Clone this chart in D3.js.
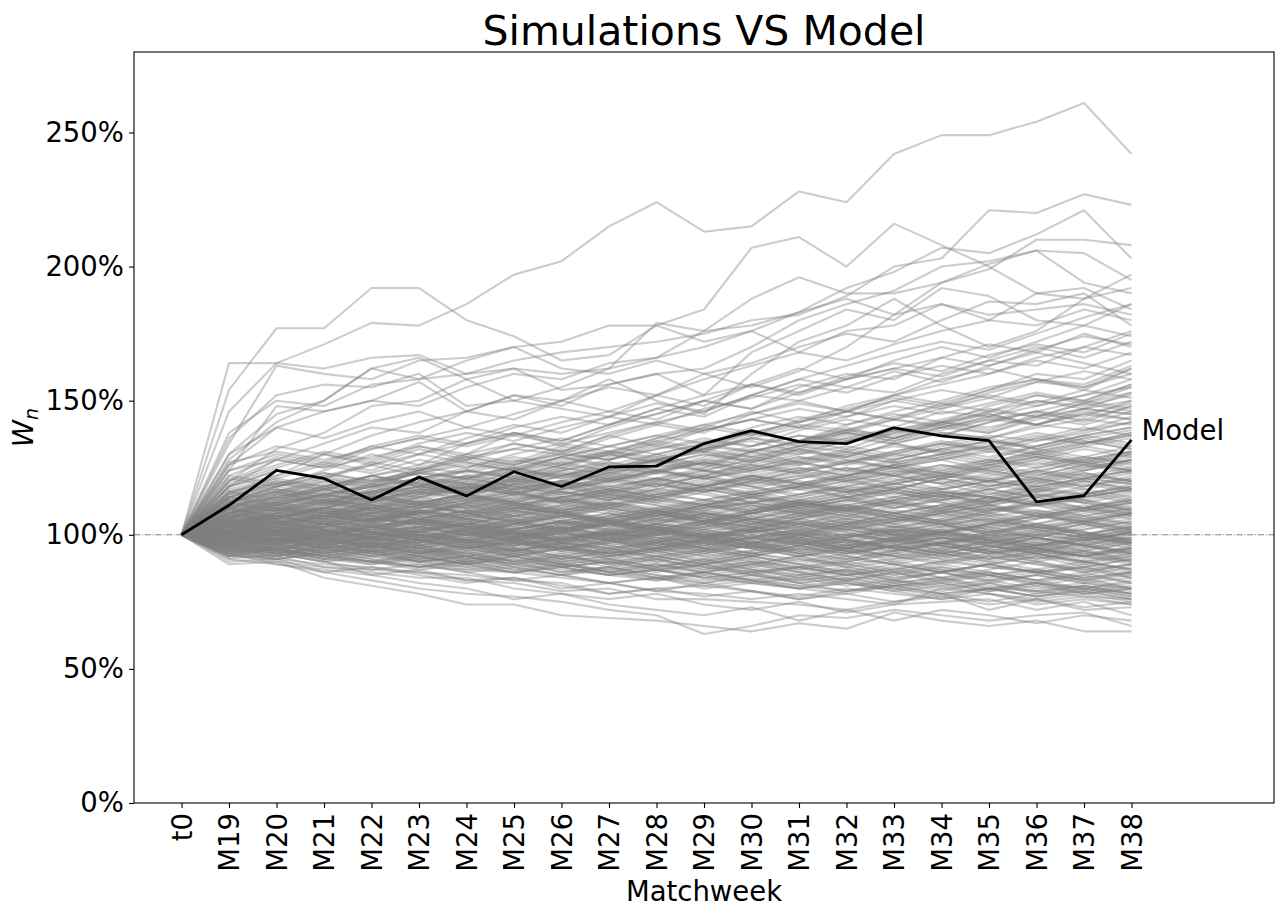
<!DOCTYPE html>
<html>
<head>
<meta charset="utf-8">
<script src="https://cdn.jsdelivr.net/npm/d3@7"></script>
<style>
  body { margin: 0; background: #fff; }
  svg text { font-family: "DejaVu Sans", sans-serif; fill: #000; }
  .axis path, .axis line { stroke: #000; stroke-width: 1.1; }
  .axis text { font-size: 27.5px; }
</style>
</head>
<body>
<svg id="chart" width="1284" height="917"></svg>
<script>
// categories on the x axis
const weeks = ["t0", "M19", "M20", "M21", "M22", "M23", "M24", "M25", "M26", "M27", "M28",
  "M29", "M30", "M31", "M32", "M33", "M34", "M35", "M36", "M37", "M38"];
const yTicks = [0, 50, 100, 150, 200, 250];
const startWealth = 100;

// model wealth, M19..M38 (%)
const model = [111, 124, 121, 113, 121.5, 114.5, 123.5, 118, 125.3, 125.6, 134, 138.8, 134.7, 134,
  139.9, 136.9, 135.1, 112.3, 114.6, 135.4];

// simulated paths, M19..M38 (%) - upper part
const simsHigh = [
  [146,164,171,179,178,186,197,202,215,224,213,215,228,224,242,249,249,254,261,242],
  [154,177,177,192,192,180,174,165,167,178,172,176,168,176,178,186,182,184,186,182],
  [164,164,162,166,167,160,162,160,162,179,176,178,183,188,182,194,201,206,194,190],
  [138,150,148,156,158,165,170,172,178,178,184,207,211,200,216,208,200,190,188,197],
  [130,145,150,162,158,160,165,168,170,172,175,180,182,189,200,203,221,220,227,223],
  [126,140,146,150,148,155,160,158,164,166,170,176,183,192,198,207,205,212,221,203],
  [120,132,138,148,150,158,150,155,162,166,176,188,196,190,190,194,199,210,210,208],
  [118,128,134,140,138,146,152,148,156,160,162,170,180,186,191,200,202,206,205,195],
  [134,163,160,158,165,166,170,162,160,165,160,164,170,175,172,180,187,186,190,178],
  [128,142,150,162,166,158,162,154,156,160,152,168,176,184,180,192,189,180,178,186],
  [124,148,146,150,157,146,152,150,158,150,145,160,172,178,188,178,170,176,188,192],
  [136,152,156,155,160,148,150,147,144,152,160,155,161,170,182,186,180,190,192,184],
  [120,128,125,132,136,140,137,142,146,143,150,156,152,158,162,159,165,170,166,172],
  [115,122,130,127,133,130,138,135,141,147,144,152,158,155,161,157,163,168,164,160],
  [112,118,124,130,126,134,138,133,140,145,150,147,155,160,158,166,171,168,175,170],
  [106,115,120,117,124,129,126,131,128,134,140,146,142,148,152,149,154,160,158,165],
  [130,140,136,142,146,140,145,150,146,152,148,156,162,158,165,170,166,172,178,174],
  [119,125,130,126,132,128,134,131,137,142,146,152,150,146,152,158,162,158,154,162],
  [104,108,112,110,115,119,117,122,125,123,128,132,130,135,139,137,142,146,144,150],
  [100,104,108,106,111,114,112,117,120,124,122,127,131,129,134,138,136,141,139,144],
  [108,112,110,115,118,122,120,125,123,128,132,136,134,139,137,142,146,144,149,153],
  [112,116,120,118,123,121,126,130,128,133,131,136,140,138,143,141,146,150,148,152],
  [106,110,108,112,116,114,119,123,121,126,130,128,133,131,136,140,138,143,147,145],
  [108,114,111,117,121,118,124,127,124,130,134,138,135,141,145,142,148,152,149,155],
  [112,118,122,119,125,129,126,132,129,135,139,143,140,146,150,147,153,157,161,158],
  [104,110,107,113,117,121,118,124,128,132,136,133,139,143,140,146,144,150,147,153],
  [118,124,121,127,124,130,134,131,137,133,139,143,147,144,150,154,151,157,155,160],
  [110,115,119,116,121,125,129,126,131,135,132,138,142,146,143,149,146,152,150,156],
  [114,112,117,121,118,124,128,125,130,134,131,137,141,139,144,148,152,149,154,151],
  [102,108,112,109,114,118,115,120,124,128,125,131,135,132,138,142,139,145,143,148],
  [116,121,126,123,128,125,130,134,131,136,140,137,143,147,151,148,154,158,155,162],
  [120,126,131,128,134,138,135,140,144,141,147,151,156,153,159,163,160,166,170,167],
  [106,111,115,112,117,121,125,122,127,124,129,133,137,134,139,143,147,144,149,146],
  [124,130,127,133,137,134,140,144,141,147,152,156,153,159,164,161,167,171,168,175],
  [112,117,114,119,123,127,124,129,133,137,134,140,144,141,146,150,155,158,156,163],
  [108,113,118,115,120,117,122,126,130,127,132,136,133,138,135,140,144,141,146,143],
  [100,106,110,114,111,116,120,117,122,126,130,127,132,136,140,137,142,146,150,147],
  [114,119,116,122,126,130,127,133,130,136,141,145,149,146,152,156,160,165,162,168],
  [118,122,127,124,130,134,138,135,141,145,150,147,153,158,162,166,163,169,174,171],
  [126,133,130,137,142,146,143,150,155,152,158,163,168,165,171,176,180,178,184,180],
  [122,129,126,133,130,136,141,138,144,149,146,152,158,163,168,172,169,175,181,186],
  [110,116,121,118,124,128,132,130,136,141,138,145,150,155,153,160,165,163,170,176]
];

// simulated paths, M19..M38 (%) - lower part
const simsLow = [
  [89,90,84,81,78,74,74,70,69,68,66,64,67,65,71,68,66,68,64,64],
  [90,91,86,83,80,78,77,75,72,70,63,66,70,69,72,70,68,70,71,66],
  [91,89,87,85,82,80,76,78,74,72,70,73,68,72,68,72,70,67,70,68],
  [92,92,88,86,84,84,80,78,76,78,74,72,75,71,74,75,76,72,75,70],
  [93,90,88,87,86,83,82,79,80,76,76,75,74,72,75,78,72,76,72,73],
  [91,93,90,85,87,83,84,80,82,79,78,76,78,76,74,80,78,74,76,74],
  [92,91,89,88,86,85,83,82,78,80,81,79,77,80,78,76,80,79,77,76],
  [94,95,91,90,88,87,86,84,82,84,80,82,80,78,81,82,79,82,80,78],
  [93,89,86,88,85,82,84,81,78,80,77,79,76,78,75,77,74,76,73,75],
  [95,93,90,87,89,86,83,85,82,79,82,79,76,79,81,78,75,78,80,77],
  [102,98,95,97,93,90,92,88,85,87,84,86,82,84,81,83,80,82,79,81],
  [98,95,92,94,90,88,90,86,88,84,82,84,81,79,81,78,80,77,79,76],
  [96,93,90,92,89,86,88,85,82,84,81,83,80,82,79,76,78,75,77,74],
  [100,97,99,95,92,94,90,88,90,87,89,85,83,85,82,84,80,82,78,80],
  [97,94,91,93,90,87,89,86,88,85,83,85,82,84,81,83,85,82,80,82],
  [99,96,93,95,92,90,92,89,87,89,86,88,85,87,84,86,83,85,82,84],
  [95,92,94,91,88,90,87,89,86,84,86,83,85,82,80,82,79,81,78,80],
  [101,98,95,97,94,92,94,91,93,90,88,90,87,89,86,88,85,87,84,86],
  [96,94,91,89,91,88,86,88,85,87,84,82,84,81,83,80,82,79,81,78],
  [98,95,97,94,91,93,90,92,89,91,88,86,88,85,87,84,86,83,85,82],
  [94,91,93,90,87,89,86,88,85,83,85,82,80,82,79,81,78,76,78,75],
  [100,97,99,96,93,95,92,89,91,88,90,87,85,87,84,86,83,85,82,80],
  [97,95,92,94,91,89,91,88,90,87,85,87,84,86,83,81,83,80,82,79],
  [93,95,92,90,88,90,87,85,87,84,86,83,81,83,80,78,80,77,79,76],
  [99,97,94,96,93,91,93,90,92,89,87,89,86,88,90,87,85,87,84,86],
  [96,93,95,92,90,92,89,87,85,87,84,86,83,85,82,84,81,79,81,78]
];

// simulated paths, M19..M38 (%) - main body
const simsCore = [
  [104,108,106,110,107,112,110,114,116,113,118,121,117,120,124,122,126,123,128,131],
  [98,96,100,97,95,98,94,96,92,95,97,93,96,99,95,92,94,90,93,95],
  [110,114,118,115,120,124,121,126,130,127,133,138,135,140,136,142,145,141,147,150],
  [96,99,95,92,94,90,93,89,91,88,86,89,92,88,85,87,84,86,83,85],
  [106,103,107,110,106,109,112,108,104,107,110,114,111,108,112,115,111,107,110,113],
  [101,105,102,98,101,104,100,97,100,103,99,102,106,103,100,97,101,104,100,98],
  [114,120,117,122,119,116,121,125,122,128,131,127,132,129,134,131,128,133,137,134],
  [95,92,96,93,90,92,88,90,86,88,91,87,84,87,83,86,82,85,88,84],
  [108,112,109,106,110,113,116,112,115,119,116,112,115,118,121,117,120,124,120,117],
  [100,97,101,104,101,98,102,105,108,104,101,104,107,111,108,105,109,112,116,113],
  [118,124,121,126,130,127,124,129,133,130,126,131,135,139,136,141,138,144,141,146],
  [97,101,98,95,98,95,97,94,97,100,96,99,102,98,101,104,100,97,94,97],
  [103,100,104,107,111,108,105,102,106,109,105,108,112,115,119,116,113,117,121,124],
  [112,110,114,111,108,112,115,119,116,113,117,114,110,113,116,112,108,111,107,110],
  [99,103,107,104,108,111,107,110,114,111,107,104,108,105,101,104,100,96,99,102],
  [94,97,93,96,92,89,92,95,91,94,90,93,96,92,89,86,89,92,88,91],
  [107,111,115,119,116,120,124,121,125,129,126,130,134,138,135,139,143,146,142,148],
  [102,99,96,99,95,92,95,91,88,91,87,90,86,83,86,82,85,81,84,80],
  [116,113,117,114,118,121,118,115,119,123,127,124,128,132,129,133,136,132,129,133],
  [100,104,101,105,102,106,109,106,110,107,111,115,112,109,113,110,114,118,115,119],
  [105,102,99,103,100,97,101,98,102,99,95,99,96,100,97,94,98,95,92,96],
  [97,94,98,101,98,102,99,96,93,97,100,104,101,98,95,99,96,93,97,101],
  [121,118,122,126,122,119,123,127,131,128,124,128,132,128,125,129,133,137,134,138],
  [103,107,104,101,105,109,106,102,99,103,107,111,108,112,116,113,117,114,110,107],
  [98,101,104,108,105,101,98,102,106,103,99,96,99,95,92,95,91,94,97,93],
  [111,115,112,116,120,117,121,118,114,118,122,126,123,127,131,135,132,136,140,137],
  [95,98,102,99,103,106,103,100,104,108,105,109,113,110,106,110,114,111,115,118],
  [104,101,105,102,99,96,99,103,100,97,94,97,93,90,93,97,94,91,94,90],
  [109,106,110,114,111,115,112,109,113,117,120,117,121,125,122,119,123,120,124,128],
  [101,104,100,103,106,102,105,109,105,102,105,101,104,108,105,109,106,102,105,108],
  [93,96,93,90,93,96,92,95,98,94,97,100,97,94,97,101,98,95,92,95],
  [106,110,107,111,114,118,115,112,116,120,117,114,118,122,126,123,120,124,127,124],
  [99,96,100,96,93,97,94,91,94,98,95,92,89,92,96,93,90,87,90,87],
  [115,119,123,120,124,121,125,129,126,130,134,131,135,139,143,140,144,148,152,155],
  [102,106,110,107,104,108,104,108,112,109,113,110,107,111,108,105,109,113,110,114],
  [97,100,97,94,97,100,104,101,105,102,99,103,100,104,108,105,102,106,110,107],
  [108,104,108,105,109,106,102,105,101,98,101,97,100,96,99,102,98,95,98,101],
  [100,103,107,111,108,112,116,113,117,121,118,122,119,116,120,124,128,125,129,126],
  [104,108,105,109,106,103,100,104,107,104,108,105,102,99,103,106,110,107,104,100],
  [113,117,114,110,114,118,122,119,123,127,124,120,124,128,125,121,125,129,133,130],
  [96,93,96,99,96,93,90,93,89,86,89,92,89,86,83,86,89,86,83,80],
  [110,107,111,115,112,108,112,116,113,117,121,118,114,118,122,119,115,119,123,120],
  [101,98,102,98,101,105,101,98,101,104,108,105,101,104,100,103,107,103,100,104],
  [105,109,113,110,114,111,115,119,115,112,116,120,124,121,125,128,124,128,132,129],
  [99,102,99,103,99,102,106,103,99,95,98,102,99,103,107,104,108,104,101,97],
  [124,128,125,129,133,129,132,136,133,137,141,138,142,146,143,147,151,148,152,158],
  [94,91,94,91,88,91,88,85,88,85,82,85,82,79,82,79,82,78,81,78],
  [107,110,113,109,112,115,111,108,111,115,119,115,118,121,117,121,118,121,125,128],
  [103,100,97,100,103,100,104,107,104,101,104,108,111,114,110,113,116,112,109,112],
  [98,95,99,102,106,103,99,103,107,110,106,103,107,104,100,96,100,104,101,98],
  [117,121,118,122,118,115,119,116,120,124,121,125,129,126,130,134,131,135,138,142],
  [100,97,100,104,100,96,99,103,100,96,93,96,92,95,99,96,93,96,100,96],
  [106,103,106,110,107,104,107,111,115,112,109,112,109,113,117,114,118,121,118,122],
  [95,99,96,100,103,100,97,94,97,101,98,102,98,95,98,94,97,100,104,101],
  [112,116,112,109,113,117,121,118,115,119,116,120,123,120,117,121,125,122,126,124],
  [102,105,102,105,109,106,103,107,104,100,104,107,104,101,97,100,104,108,104,108],
  [109,113,117,114,118,122,118,122,126,123,127,131,127,124,128,132,129,133,137,140],
  [97,94,97,93,96,92,89,92,95,91,88,85,88,85,88,84,87,90,87,84],
  [104,107,104,108,112,108,111,108,105,108,112,109,113,116,112,109,113,117,114,117],
  [100,96,100,97,94,97,101,98,95,98,102,106,103,99,102,106,103,99,96,100],
  [122,119,123,120,124,128,125,121,124,128,132,129,133,137,134,130,134,138,135,132],
  [99,102,106,103,99,102,98,95,98,94,91,94,97,94,90,93,96,93,89,92],
  [105,101,98,101,98,95,98,95,92,95,92,89,92,89,86,89,86,83,86,82],
  [108,111,108,112,116,120,117,114,117,114,118,122,119,123,126,123,127,131,128,125],
  [96,99,103,100,97,101,104,101,98,102,99,96,100,104,101,105,102,99,103,106],
  [114,111,115,118,115,119,116,112,116,120,124,121,125,122,126,130,127,131,135,132],
  [103,106,110,107,103,107,111,114,110,107,111,108,112,115,118,115,119,116,113,109],
  [92,95,92,89,92,89,86,89,86,83,86,83,80,83,80,77,80,77,80,77],
  [101,104,107,104,108,105,109,112,109,106,110,113,110,107,111,115,112,116,120,117],
  [110,106,110,113,110,114,111,107,111,108,104,108,111,108,104,108,111,108,105,108],
  [98,102,99,95,99,103,100,104,101,97,101,98,94,98,95,91,95,99,96,93],
  [127,131,128,132,136,133,137,134,138,142,139,143,140,144,148,145,149,153,150,156],
  [104,101,104,101,105,108,105,102,105,102,99,103,100,97,101,98,95,99,96,92],
  [106,110,106,110,113,110,114,117,121,118,122,118,115,119,122,126,123,127,124,128],
  [97,100,96,99,102,98,101,97,100,104,107,104,108,104,108,111,108,112,115,112],
  [100,98,101,98,95,98,95,98,101,98,95,92,96,93,96,99,96,93,96,99],
  [111,114,118,122,119,122,125,129,125,128,132,135,131,135,138,141,145,141,145,149],
  [95,92,95,98,95,91,94,97,94,91,94,91,87,90,87,90,93,90,86,89],
  [103,107,104,100,104,101,97,101,104,108,105,102,106,110,107,104,101,104,108,111],
  [108,105,102,105,109,106,110,113,110,114,111,115,118,114,117,121,118,122,126,123],
  [101,103,100,102,105,103,100,98,101,104,102,99,101,104,106,103,101,98,100,103],
  [98,100,103,101,99,102,104,102,105,103,100,102,99,97,100,102,99,101,104,102],
  [105,107,104,106,109,107,110,108,105,107,110,112,109,111,114,112,109,111,113,116],
  [96,98,96,94,96,99,97,95,93,95,98,96,93,91,94,96,93,95,92,90],
  [103,101,104,107,105,103,106,104,107,110,108,106,109,107,104,107,110,108,106,109],
  [99,97,95,97,100,98,96,99,101,99,97,95,98,96,94,97,99,97,95,98],
  [107,110,108,111,109,112,115,113,111,114,117,115,118,116,119,122,120,118,121,124],
  [94,96,94,97,95,93,95,92,90,92,95,93,91,89,91,94,92,89,87,89],
  [102,105,107,105,108,106,104,107,110,108,105,108,111,114,112,109,112,115,113,110],
  [100,98,101,99,97,100,102,100,98,96,99,102,100,97,95,97,100,98,96,94],
  [110,112,115,113,116,119,117,120,118,121,124,122,119,122,125,123,126,129,127,130],
  [97,99,102,100,98,101,99,97,100,103,101,99,102,105,103,101,104,107,105,103],
  [104,102,100,103,101,99,102,105,103,106,104,101,103,100,98,101,104,102,99,97],
  [92,94,92,90,92,89,91,88,90,87,89,86,88,85,87,90,88,86,88,85],
  [106,104,107,105,108,111,109,107,110,113,111,114,112,110,113,116,114,117,115,118],
  [99,102,100,103,105,103,101,104,102,100,103,106,104,102,99,102,105,103,100,103],
  [103,106,104,101,103,100,98,101,99,102,100,97,99,96,98,95,97,100,98,95],
  [108,106,109,112,110,113,111,114,117,115,118,116,113,116,119,117,120,118,121,119],
  [95,93,96,94,92,95,97,95,93,96,94,92,95,93,96,99,97,94,97,99],
  [101,99,97,99,96,98,101,99,102,100,97,100,98,95,98,96,93,96,94,91],
  [112,115,113,116,118,116,119,117,120,123,121,118,121,124,122,125,128,126,129,127],
  [98,101,103,106,104,102,105,108,106,109,107,104,107,110,108,111,109,112,110,113],
  [100,102,99,101,98,96,98,95,97,94,96,99,97,94,92,94,91,93,90,92],
  [104,107,105,108,106,103,105,102,104,107,105,108,111,109,106,109,107,104,107,110],
  [96,94,97,99,97,100,98,101,104,102,105,103,100,103,101,98,101,99,102,105],
  [109,111,109,106,108,111,114,112,115,113,110,112,115,118,116,113,115,118,121,119],
  [93,91,93,96,94,91,93,90,92,95,93,90,88,91,89,86,89,92,90,87],
  [102,100,103,106,104,107,105,102,104,101,103,106,104,107,105,108,111,109,107,104],
  [99,101,98,100,103,101,99,96,99,97,100,98,101,99,102,100,97,95,98,101],
  [105,108,110,108,111,114,112,109,112,115,113,116,119,117,114,117,120,123,121,124],
  [97,95,98,96,93,96,94,97,95,92,94,97,95,98,96,93,91,94,92,89],
  [101,104,102,99,101,104,107,105,102,105,108,106,103,106,109,107,104,107,110,108],
  [114,117,115,118,121,119,116,119,122,120,123,126,124,127,125,128,131,129,126,129],
  [95,97,99,97,100,98,96,98,101,99,97,99,102,100,98,101,99,96,99,102],
  [103,101,98,101,99,102,100,97,99,96,98,101,99,96,99,97,100,103,101,98],
  [107,105,108,110,108,105,108,111,109,106,109,112,110,113,111,108,111,114,112,115],
  [100,103,101,98,100,97,99,102,100,97,95,97,100,98,95,97,94,96,99,97],
  [98,96,94,96,93,95,98,96,99,101,99,96,98,95,97,100,98,101,99,102],
  [111,109,112,114,112,115,118,116,113,115,118,121,119,116,119,122,120,117,120,123],
  [102,104,107,105,102,104,107,110,108,105,107,110,113,111,108,111,114,112,115,118],
  [94,92,95,93,90,92,89,91,94,92,89,91,88,90,93,91,88,86,88,91],
  [106,108,106,103,105,102,104,107,105,102,104,101,103,106,104,101,103,100,102,105],
  [99,97,100,102,100,97,99,102,105,103,100,102,105,103,106,104,101,103,106,104],
  [116,119,117,120,123,121,124,122,125,128,126,123,126,129,127,130,133,131,134,137],
  [101,98,100,103,101,104,102,99,101,104,102,99,97,99,102,100,97,100,98,101],
  [104,106,109,107,104,107,110,108,111,109,106,109,112,110,113,116,114,111,114,117],
  [97,100,98,95,97,100,98,96,93,95,92,94,97,95,92,90,92,95,93,90],
  [108,110,113,111,108,110,107,109,112,110,113,111,108,110,113,116,114,111,109,112],
  [100,102,105,103,106,104,101,103,100,102,105,103,106,109,107,104,106,103,105,108],
  [95,98,96,99,97,94,96,99,97,100,98,95,97,94,96,99,97,94,92,94],
  [103,100,102,99,101,98,100,97,95,97,94,96,93,95,98,96,93,95,92,94],
  [110,113,111,114,117,115,112,115,118,116,119,122,120,117,120,123,121,124,122,125],
  [98,100,97,99,102,100,103,101,98,100,103,101,104,102,99,101,104,107,105,102],
  [105,103,106,108,106,109,107,104,106,103,105,108,106,109,112,110,107,109,106,108],
  [93,95,98,96,94,96,93,95,92,94,97,95,92,94,91,93,96,94,91,93],
  [107,109,107,110,112,110,113,116,114,117,115,112,114,117,115,118,121,119,122,120],
  [101,103,100,98,100,103,101,98,100,102,99,101,98,100,103,101,98,96,98,101],
  [96,99,101,99,102,104,102,105,103,100,102,105,108,106,103,105,108,106,109,112],
  [104,101,103,106,104,102,99,101,104,102,99,97,99,102,100,97,99,96,98,100],
  [113,111,114,116,114,117,120,118,121,119,116,119,122,120,123,126,124,121,124,127],
  [99,101,99,96,98,95,97,100,98,101,99,96,94,96,93,95,98,96,93,95],
  [102,105,103,106,109,107,110,108,105,108,111,109,112,110,107,110,113,111,114,117],
  [106,112,116,114,118,116,120,124,121,125,128,126,130,133,130,134,137,135,139,142],
  [110,114,112,116,119,117,121,119,123,126,124,128,126,130,133,131,135,132,136,139],
  [104,109,113,111,115,118,116,120,123,121,125,129,127,131,128,132,135,133,137,140],
  [112,116,114,118,121,124,122,126,124,128,131,129,133,136,134,138,136,140,143,141],
  [108,111,115,113,117,115,119,122,120,124,127,125,129,127,131,134,132,136,134,138],
  [114,118,121,119,123,126,124,128,131,129,133,131,135,138,136,140,143,141,145,143],
  [103,107,110,108,112,115,113,117,120,118,122,125,123,127,130,128,132,130,134,137],
  [116,120,118,122,125,123,127,130,128,132,135,133,137,135,139,142,140,144,147,145],
  [103,106,109,106,110,113,110,114,117,114,118,121,118,122,125,122,126,129,126,130],
  [97,100,97,101,98,95,98,101,98,95,98,95,92,95,92,89,92,89,86,89],
  [108,111,108,105,109,112,109,113,110,107,111,114,117,114,118,115,112,116,119,116],
  [101,98,101,104,107,104,108,105,102,106,109,106,110,113,110,114,117,114,118,121],
  [95,98,95,92,95,98,95,92,89,92,89,92,95,92,89,86,89,86,89,86],
  [110,107,110,113,116,113,117,120,117,121,118,122,125,122,126,129,126,130,127,131],
  [104,101,104,101,98,101,98,95,98,101,98,95,98,95,98,101,98,95,92,95],
  [99,102,105,102,105,108,105,108,111,108,111,114,111,114,117,114,117,120,123,120],
  [106,109,106,103,106,109,112,109,106,109,106,103,106,103,100,103,106,103,100,103],
  [100,103,100,103,106,103,100,103,106,109,106,109,112,109,106,109,112,115,112,109],
  [92,95,92,95,92,89,92,89,86,89,86,89,86,83,86,83,86,83,80,83],
  [113,116,113,116,119,116,120,123,120,124,127,124,128,131,128,132,135,132,136,133],
  [102,99,102,99,96,99,102,99,96,93,96,99,96,93,96,93,90,93,90,87],
  [105,108,111,108,111,108,111,114,111,114,111,108,111,114,117,114,111,114,117,120],
  [98,101,98,95,98,95,92,95,98,95,98,101,104,101,98,101,104,101,104,107],
  [109,112,115,112,115,118,115,118,121,124,121,124,127,124,127,130,133,130,133,136],
  [96,93,96,99,96,99,96,93,96,93,90,93,90,93,96,93,96,93,90,93],
  [103,106,103,106,103,106,109,106,103,106,103,106,109,106,103,100,103,106,109,106],
  [101,104,107,110,107,110,113,110,113,116,113,116,119,122,119,122,125,128,125,128],
  [94,97,100,97,100,97,94,97,94,97,100,97,94,91,94,97,94,91,94,97],
  [107,104,101,104,101,104,101,98,101,98,95,98,101,98,95,92,95,92,95,98],
  [111,114,117,114,111,114,117,120,117,114,117,120,117,120,123,120,117,120,117,114],
  [99,96,99,96,99,102,99,102,99,96,99,102,105,102,105,108,105,102,105,102],
  [104,107,110,107,110,113,116,113,116,119,122,119,122,125,122,119,122,125,128,131],
  [97,94,91,94,91,94,97,94,91,88,91,88,91,88,85,88,85,82,85,88],
  [102,105,102,99,102,105,102,105,108,105,108,105,102,105,102,99,102,99,96,99],
  [115,118,115,118,121,124,121,124,127,124,121,124,127,130,127,124,127,130,127,124],
  [100,97,100,103,100,97,94,97,100,103,100,97,100,97,94,97,94,97,100,97],
  [106,103,106,109,106,109,106,109,112,109,112,115,112,109,112,115,112,115,112,109],
  [93,96,93,96,99,96,93,96,93,90,93,96,93,96,99,96,99,102,99,96],
  [108,105,108,105,108,111,108,111,114,111,108,111,108,111,114,117,114,111,114,117],
  [101,98,95,98,95,92,95,92,95,92,89,92,89,86,89,92,89,86,83,86],
  [105,102,105,108,111,108,111,108,105,108,105,102,105,102,105,108,105,108,111,108],
  [98,101,104,101,98,101,104,107,104,101,104,107,110,107,110,113,110,107,110,113],
  [112,109,112,115,112,115,118,115,118,121,118,115,118,121,124,121,124,121,118,121],
  [96,99,96,93,96,93,96,99,96,99,96,93,96,99,102,99,96,99,96,93]
];

const width = 1284, height = 917;
const margin = {top: 52, right: 10, bottom: 114, left: 134};
const plotW = width - margin.left - margin.right;
const plotH = height - margin.top - margin.bottom;

const svg = d3.select("#chart");
const chart = svg.append("g").attr("transform", `translate(${margin.left},${margin.top})`);

const x = d3.scaleLinear().domain([-1, weeks.length + 2]).range([0, plotW]);
const y = d3.scaleLinear().domain([0, 280]).range([plotH, 0]);

const line = d3.line()
    .x((d, i) => x(i))
    .y(d => y(d));

const sims = simsHigh.concat(simsCore, simsLow).map(s => [startWealth].concat(s));

chart.append("defs").append("clipPath").attr("id", "clip")
    .append("rect").attr("width", plotW).attr("height", plotH);

const plot = chart.append("g").attr("clip-path", "url(#clip)");

// simulated paths
plot.selectAll("path.sim")
    .data(sims).enter()
    .append("path").attr("class", "sim")
    .attr("d", line)
    .style("fill", "none")
    .style("stroke", "#808080")
    .style("stroke-opacity", 0.4)
    .style("stroke-width", 2.1)
    .style("stroke-linejoin", "round");

// reference line at starting wealth
plot.append("line")
    .attr("x1", 0).attr("x2", plotW)
    .attr("y1", y(startWealth)).attr("y2", y(startWealth))
    .style("stroke", "#808080")
    .style("stroke-width", 1)
    .style("stroke-dasharray", "6.4 1.6 1 1.6");

// model path
const modelPath = [startWealth].concat(model);
plot.append("path")
    .datum(modelPath)
    .attr("d", line)
    .style("fill", "none")
    .style("stroke", "#000")
    .style("stroke-width", 2.8)
    .style("stroke-linejoin", "round");

chart.append("text")
    .attr("x", x(modelPath.length - 1) + 10)
    .attr("y", y(modelPath[modelPath.length - 1]))
    .style("font-size", "27.5px")
    .text("Model");

// axes
const yAxis = chart.append("g").attr("class", "axis")
    .call(d3.axisLeft(y).tickValues(yTicks).tickFormat(d => d + "%").tickSize(5).tickPadding(5));
yAxis.select(".domain").remove();

const xAxis = chart.append("g").attr("class", "axis")
    .attr("transform", `translate(0,${plotH})`)
    .call(d3.axisBottom(x).tickValues(d3.range(weeks.length)).tickFormat(i => weeks[i]).tickSize(5));
xAxis.select(".domain").remove();
xAxis.selectAll("text")
    .attr("transform", "rotate(-90)")
    .attr("x", -10).attr("y", 0).attr("dy", "0.35em")
    .style("text-anchor", "end");

// frame
chart.append("rect")
    .attr("width", plotW).attr("height", plotH)
    .style("fill", "none").style("stroke", "#000").style("stroke-width", 1.1);

// labels
svg.append("text")
    .attr("x", margin.left + plotW / 2).attr("y", 45)
    .attr("text-anchor", "middle")
    .style("font-size", "41px")
    .text("Simulations VS Model");

svg.append("text")
    .attr("x", margin.left + plotW / 2).attr("y", 901)
    .attr("text-anchor", "middle")
    .style("font-size", "27.5px")
    .text("Matchweek");

const yl = svg.append("text")
    .attr("transform", `translate(33,${margin.top + plotH / 2}) rotate(-90)`)
    .attr("text-anchor", "middle")
    .style("font-size", "27.5px");
yl.append("tspan").style("font-style", "italic").text("W");
yl.append("tspan").attr("dy", 5).style("font-size", "19px").style("font-style", "italic").text("n");
</script>
</body>
</html>
